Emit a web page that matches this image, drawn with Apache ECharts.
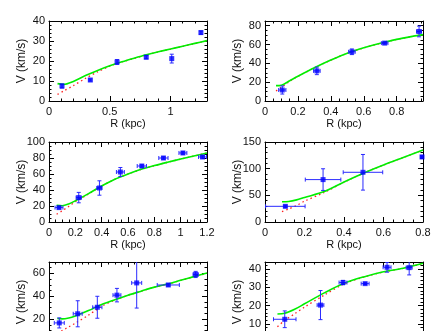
<!DOCTYPE html>
<html>
<head>
<meta charset="utf-8">
<script src="https://cdn.jsdelivr.net/npm/echarts@6/dist/echarts.min.js"></script>
<style>
  html, body { margin: 0; padding: 0; background: #fff; }
  #chart { width: 447px; height: 331px; }
</style>
</head>
<body>
<div id="chart"></div>
<script>
// panel 1 (top left)
const r1 = [0.107, 0.34, 0.56, 0.80, 1.01, 1.25]
const v1 = [7.5, 10.5, 19.5, 21.9, 21.2, 34.2]
const r1Err = [0, 0, 0, 0, 0, 0]
const v1Err = [1.0, 0.5, 1.2, 0.8, 2.2, 0.8]
const fit1R = [0.07, 0.12, 0.2, 0.3, 0.4, 0.5, 0.6, 0.7, 0.8, 0.9, 1.0, 1.1, 1.2, 1.3]
const fit1Total = [8.7, 8.3, 9.8, 12.7, 15.3, 17.6, 19.6, 21.4, 23.1, 24.6, 26.0, 27.4, 28.8, 30.2]
const fit1Bary = [3.3, 5.0, 7.7, 11.3, 14.6, 17.4, 19.5, 21.3, 23.0, 24.5, 25.9, 27.3, 28.7, 30.1]

// panel 2 (top right)
const r2 = [0.105, 0.315, 0.528, 0.727, 0.936]
const v2 = [11.7, 32, 52.3, 61.5, 73.9]
const r2Err = [0.022, 0.02, 0.02, 0.02, 0.015]
const v2Err = [4.3, 4, 3, 1, 5.7]
const fit2R = [0.067, 0.1, 0.15, 0.2, 0.3, 0.4, 0.5, 0.6, 0.7, 0.8, 0.9, 0.96]
const fit2Total = [16.3, 16.8, 21.5, 26.3, 35.3, 43.5, 50.8, 56.5, 61.3, 65.5, 68.8, 70.5]
const fit2Bary = [10.7, 14.5, 21, 26.2, 35.2, 43.4, 50.7, 56.4, 61.2, 65.4, 68.7, 70.4]

// panel 3 (middle left)
const r3 = [0.076, 0.226, 0.383, 0.542, 0.705, 0.869, 1.017, 1.166]
const v3 = [18, 30.5, 42.5, 62.5, 70, 80, 86.3, 81.3]
const r3Err = [0.03, 0.02, 0.02, 0.03, 0.035, 0.035, 0.03, 0.03]
const v3Err = [1.5, 6.5, 9, 5.6, 1.5, 1.5, 1.5, 1.5]
const fit3R = [0.058, 0.1, 0.15, 0.2, 0.3, 0.4, 0.5, 0.6, 0.7, 0.8, 0.9, 1.0, 1.1, 1.2]
const fit3Total = [20.8, 20.3, 22.5, 26.5, 35.5, 45, 53.5, 60, 65.8, 70.5, 74.7, 78.7, 82.5, 86.3]
const fit3Bary = [9.6, 14, 19.5, 25.3, 35, 44.8, 53.4, 59.9, 65.7, 70.4, 74.6, 78.6, 82.4, 86.2]

// panel 4 (middle right)
const r4 = [0.103, 0.294, 0.496, 0.795]
const v4 = [29.4, 79.5, 93.2, 122]
const r4Err = [0.1, 0.09, 0.1, 0.005]
const v4Err = [2, 20.3, 33.4, 2]
const fit4R = [0.086, 0.12, 0.16, 0.2, 0.3, 0.4, 0.5, 0.6, 0.7, 0.8]
const fit4Total = [38, 38.5, 41.5, 46, 57, 75, 92, 107, 121, 135]
const fit4Bary = [19.5, 24.5, 31, 39, 55.5, 74.5, 91.8, 106.8, 120.8, 134.8]

// panel 5 (bottom left)
const r5 = [0.078, 0.218, 0.367, 0.516, 0.666, 0.906, 1.114]
const v5 = [16.7, 24.7, 30.4, 41, 51.7, 49.9, 59.1]
const r5Err = [0.038, 0.034, 0.035, 0.03, 0.038, 0.084, 0.02]
const v5Err = [4.4, 11.4, 9.6, 5.9, 22, 1, 2.7]
const fit5R = [0.063, 0.1, 0.15, 0.2, 0.3, 0.4, 0.5, 0.6, 0.7, 0.8, 0.9, 1.0, 1.1, 1.2]
const fit5Total = [20.6, 20.2, 21, 22.8, 27.5, 32.8, 37, 41, 44.5, 48, 50.7, 54, 57.2, 60.3]
const fit5Bary = [7.6, 10, 13.2, 16.5, 23.5, 31.2, 36.7, 40.8, 44.4, 47.9, 50.6, 53.9, 57.1, 60.2]

// panel 6 (bottom right)
const r6 = [0.1, 0.281, 0.395, 0.507, 0.618, 0.73]
const v6 = [12.5, 20.3, 32.7, 32.1, 41.1, 40.9]
const r6Err = [0.057, 0.017, 0.02, 0.02, 0.02, 0.015]
const v6Err = [4.6, 8, 1.2, 0.5, 2.7, 4]
const fit6R = [0.063, 0.1, 0.15, 0.2, 0.3, 0.4, 0.5, 0.6, 0.7, 0.8]
const fit6Total = [15.4, 15.8, 18, 21, 27, 32.3, 35.8, 38.6, 40.6, 43.3]
const fit6Bary = [8.4, 11.9, 15.5, 19.2, 25.8, 31.9, 35.7, 38.5, 40.5, 43.2]

const xName = 'R (kpc)'
const yName = 'V (km/s)'

// layout + axis scales for each panel: [min, max, interval, minor splits]
const panels = [
  { left: 49, top: 21, x: [0, 1.3, 0.5, 5], y: [0, 40, 10, 5], obs: [r1, v1, r1Err, v1Err], fit: [fit1R, fit1Total, fit1Bary] },
  { left: 265, top: 21, x: [0, 0.96, 0.2, 4], y: [0, 85, 20, 4], obs: [r2, v2, r2Err, v2Err], fit: [fit2R, fit2Total, fit2Bary] },
  { left: 49, top: 142, x: [0, 1.2, 0.2, 4], y: [0, 100, 20, 4], obs: [r3, v3, r3Err, v3Err], fit: [fit3R, fit3Total, fit3Bary] },
  { left: 265, top: 142, x: [0, 0.8, 0.2, 4], y: [0, 150, 50, 5], obs: [r4, v4, r4Err, v4Err], fit: [fit4R, fit4Total, fit4Bary] },
  { left: 49, top: 262, x: [0, 1.2, 0.2, 4], y: [0, 70, 20, 4], obs: [r5, v5, r5Err, v5Err], fit: [fit5R, fit5Total, fit5Bary] },
  { left: 265, top: 262, x: [0, 0.8, 0.2, 4], y: [0, 44, 10, 5], obs: [r6, v6, r6Err, v6Err], fit: [fit6R, fit6Total, fit6Bary] }
]

const FONT = 'Liberation Sans, Arial, sans-serif'
const BLUE = '#0000ff'

// only label ticks that sit on the interval (not the axis max)
function tickFormatter (interval) {
  return (v) => {
    const k = v / interval
    if (Math.abs(k - Math.round(k)) > 1e-6) return ''
    return String(Math.round(v * 100) / 100)
  }
}

function makeAxis (dim, idx, scale, position, main) {
  const axis = {
    type: 'value',
    gridIndex: idx,
    position: position,
    min: scale[0],
    max: scale[1],
    interval: scale[2],
    axisLine: { show: true, onZero: false, lineStyle: { color: '#000', width: 1 } },
    axisTick: { show: true, inside: true, length: 5, lineStyle: { color: '#000', width: 1 } },
    minorTick: { show: true, splitNumber: scale[3], length: 2.5, lineStyle: { color: '#000', width: 1 } },
    splitLine: { show: false },
    axisLabel: {
      show: main,
      color: '#111',
      fontSize: 11,
      fontFamily: FONT,
      margin: dim === 'x' ? 5 : 4,
      formatter: tickFormatter(scale[2])
    }
  }
  if (main) {
    axis.name = dim === 'x' ? xName : yName
    axis.nameLocation = 'middle'
    axis.nameGap = dim === 'x' ? 17 : 21
    axis.nameMoveOverlap = false
    axis.nameTextStyle = { color: '#111', fontSize: dim === 'x' ? 11 : 12, fontFamily: FONT }
  }
  return axis
}

// error bars with little end caps
function renderErrorBar (params, api) {
  const x = api.value(0)
  const y = api.value(1)
  const dx = api.value(2)
  const dy = api.value(3)
  const cap = 2
  const style = { stroke: '#2a2aff', lineWidth: 1 }
  const children = []
  const seg = (x1, y1, x2, y2) => ({ type: 'line', shape: { x1, y1, x2, y2 }, style })
  if (dy > 0) {
    const top = api.coord([x, y + dy])
    const bot = api.coord([x, y - dy])
    children.push(seg(top[0], top[1], bot[0], bot[1]))
    children.push(seg(top[0] - cap, top[1], top[0] + cap, top[1]))
    children.push(seg(bot[0] - cap, bot[1], bot[0] + cap, bot[1]))
  }
  if (dx > 0) {
    const lft = api.coord([x - dx, y])
    const rgt = api.coord([x + dx, y])
    children.push(seg(lft[0], lft[1], rgt[0], rgt[1]))
    children.push(seg(lft[0], lft[1] - cap, lft[0], lft[1] + cap))
    children.push(seg(rgt[0], rgt[1] - cap, rgt[0], rgt[1] + cap))
  }
  return { type: 'group', children }
}

const grid = []
const xAxis = []
const yAxis = []
const series = []

panels.forEach((p, i) => {
  grid.push({ left: p.left, top: p.top, width: 158, height: 80, outerBoundsMode: 'none', containLabel: false })
  xAxis.push(makeAxis('x', i, p.x, 'bottom', true))
  xAxis.push(makeAxis('x', i, p.x, 'top', false))
  yAxis.push(makeAxis('y', i, p.y, 'left', true))
  yAxis.push(makeAxis('y', i, p.y, 'right', false))

  const [rObs, vObs, rErr, vErr] = p.obs
  const [fitR, fitTotal, fitBary] = p.fit
  const axisIdx = { xAxisIndex: 2 * i, yAxisIndex: 2 * i }

  series.push({
    type: 'line',
    ...axisIdx,
    data: fitR.map((r, k) => [r, fitBary[k]]),
    smooth: 0.3,
    showSymbol: false,
    silent: true,
    clip: true,
    lineStyle: { color: '#ff2020', width: 1.3, type: [1.5, 3] },
    z: 2
  })
  series.push({
    type: 'line',
    ...axisIdx,
    data: fitR.map((r, k) => [r, fitTotal[k]]),
    smooth: 0.3,
    showSymbol: false,
    silent: true,
    clip: true,
    lineStyle: { color: '#00ee00', width: 1.6 },
    z: 3
  })
  series.push({
    type: 'custom',
    ...axisIdx,
    clip: true,
    renderItem: renderErrorBar,
    encode: { x: 0, y: 1 },
    data: rObs.map((r, k) => [r, vObs[k], rErr[k], vErr[k]]),
    z: 4
  })
  series.push({
    type: 'scatter',
    ...axisIdx,
    symbol: 'rect',
    symbolSize: 5,
    itemStyle: { color: BLUE },
    data: rObs.map((r, k) => [r, vObs[k]]),
    z: 5
  })
})

const chart = echarts.init(document.getElementById('chart'), null, { renderer: 'canvas' })
chart.setOption({
  animation: false,
  backgroundColor: '#fff',
  grid,
  xAxis,
  yAxis,
  series
})
</script>
</body>
</html>
